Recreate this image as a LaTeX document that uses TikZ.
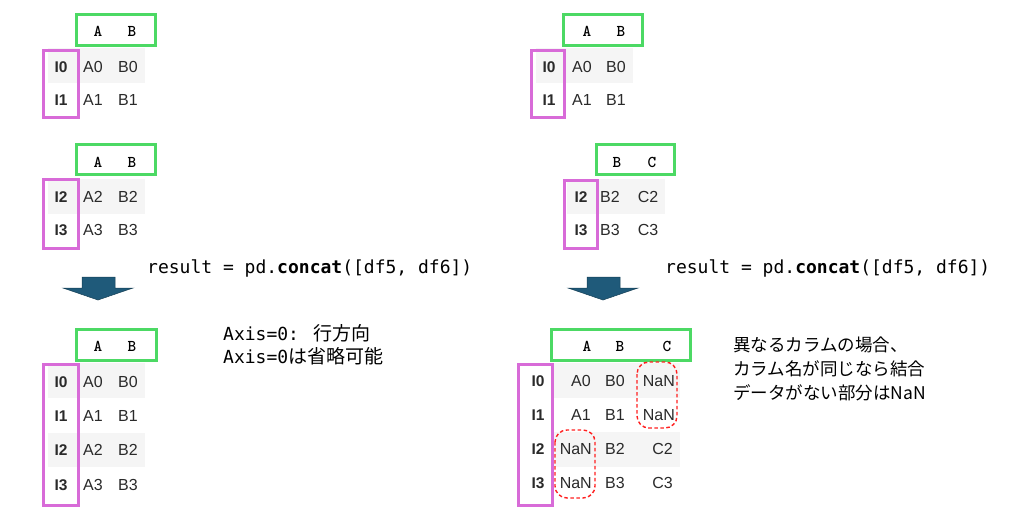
\documentclass[tikz,border=0pt]{standalone}
\usepackage{fontspec}
\setmainfont{Liberation Sans}
\newfontfamily\hdrf{Latin Modern Mono Light}
\newfontfamily\codef{DejaVu Sans Mono}
\newfontfamily\cjk{Noto Sans CJK JP}
\definecolor{gbox}{HTML}{4CD964}
\definecolor{mbox}{HTML}{D86BD8}
\definecolor{shade}{HTML}{F5F5F5}
\definecolor{valc}{HTML}{2A2A2A}
\definecolor{arrc}{HTML}{1F5A7A}
\definecolor{nanc}{HTML}{FF2020}
\tikzset{
  gframe/.style={draw=gbox,line width=3pt},
  mframe/.style={draw=mbox,line width=3pt},
  rowshade/.style={fill=shade,draw=none},
  hdr/.style={font=\hdrf\bfseries\fontsize{16.5}{18}\selectfont,text=black,inner sep=0pt},
  idx/.style={font=\bfseries\fontsize{15.5}{18}\selectfont,text=valc,inner sep=0pt},
  val/.style={font=\fontsize{16}{18}\selectfont,text=valc,inner sep=0pt},
  code/.style={font=\codef\fontsize{18}{22}\selectfont,anchor=west,inner sep=0pt},
  note/.style={anchor=west,inner sep=0pt,align=left},
  nanbox/.style={draw=nanc,dash pattern=on 3.5pt off 2.5pt,line width=1.4pt,rounded corners=12pt},
  downarrow/.style={fill=arrc,draw=arrc!70!black,line width=0.5pt}
}
\begin{document}
\begin{tikzpicture}[x=1pt,y=-1pt]
\useasboundingbox (0,0) rectangle (1024,521);

% ---------- Left top table ----------
\fill[rowshade] (48,48) rectangle (145,83);
\draw[gframe] (76,15) rectangle (155,46);
\draw[mframe] (43,51) rectangle (78,118);
\node[hdr] (l1hA) at (98,31) {A};
\node[hdr] (l1hB) at (132,31) {B};
\node[idx] (l1i0) at (61,67) {I0};
\node[idx] (l1i1) at (61,100) {I1};
\node[val] (l1a0) at (93,67) {A0};
\node[val] (l1b0) at (128,67) {B0};
\node[val] (l1a1) at (93,100) {A1};
\node[val] (l1b1) at (128,100) {B1};

% ---------- Left second table ----------
\fill[rowshade] (48,179) rectangle (145,214);
\draw[gframe] (76,145) rectangle (155,175);
\draw[mframe] (43,180) rectangle (78,248);
\node[hdr] (l2hA) at (98,162) {A};
\node[hdr] (l2hB) at (132,162) {B};
\node[idx] (l2i2) at (61,197) {I2};
\node[idx] (l2i3) at (61,230) {I3};
\node[val] (l2a2) at (93,197) {A2};
\node[val] (l2b2) at (128,197) {B2};
\node[val] (l2a3) at (93,230) {A3};
\node[val] (l2b3) at (128,230) {B3};

% ---------- Left code + arrow ----------
\node[code] (lcode) at (147,268) {result = pd.\textbf{concat}([df5, df6])};
\draw[downarrow] (82,277) -- (115,277) -- (115,288) -- (133,288) -- (98,300) -- (63,288) -- (82,288) -- cycle;

% ---------- Left result table ----------
\fill[rowshade] (48,363) rectangle (145,398);
\fill[rowshade] (48,433) rectangle (145,467);
\draw[gframe] (76,329) rectangle (156,360);
\draw[mframe] (43,364) rectangle (78,505);
\node[hdr] (l3hA) at (98,346) {A};
\node[hdr] (l3hB) at (132,346) {B};
\node[idx] (l3i0) at (61,382) {I0};
\node[idx] (l3i1) at (61,416) {I1};
\node[idx] (l3i2) at (61,450) {I2};
\node[idx] (l3i3) at (61,485) {I3};
\node[val] (l3a0) at (93,382) {A0};
\node[val] (l3b0) at (128,382) {B0};
\node[val] (l3a1) at (93,416) {A1};
\node[val] (l3b1) at (128,416) {B1};
\node[val] (l3a2) at (93,450) {A2};
\node[val] (l3b2) at (128,450) {B2};
\node[val] (l3a3) at (93,485) {A3};
\node[val] (l3b3) at (128,485) {B3};

\node[note] (lnote1) at (223,333) {{\codef\fontsize{18}{22}\selectfont Axis=0: }{\cjk\fontsize{19}{22}\selectfont 行方向}};
\node[note] (lnote2) at (223,356) {{\codef\fontsize{18}{22}\selectfont Axis=0}{\cjk\fontsize{19}{22}\selectfont は省略可能}};

% ---------- Right top table ----------
\fill[rowshade] (536,48) rectangle (633,83);
\draw[gframe] (563,15) rectangle (642,46);
\draw[mframe] (531,51) rectangle (564,118);
\node[hdr] (r1hA) at (587,31) {A};
\node[hdr] (r1hB) at (621,31) {B};
\node[idx] (r1i0) at (549,67) {I0};
\node[idx] (r1i1) at (549,100) {I1};
\node[val] (r1a0) at (582,67) {A0};
\node[val] (r1b0) at (616,67) {B0};
\node[val] (r1a1) at (582,100) {A1};
\node[val] (r1b1) at (616,100) {B1};

% ---------- Right second table ----------
\fill[rowshade] (567,179) rectangle (665,214);
\draw[gframe] (596,145) rectangle (674,175);
\draw[mframe] (564,181) rectangle (597,248);
\node[hdr] (r2hB) at (617,162) {B};
\node[hdr] (r2hC) at (652,162) {C};
\node[idx] (r2i2) at (581,197) {I2};
\node[idx] (r2i3) at (581,230) {I3};
\node[val] (r2b2) at (610,197) {B2};
\node[val] (r2c2) at (648,197) {C2};
\node[val] (r2b3) at (610,230) {B3};
\node[val] (r2c3) at (648,230) {C3};

% ---------- Right code + arrow ----------
\node[code] (rcode) at (665,268) {result = pd.\textbf{concat}([df5, df6])};
\draw[downarrow] (587,277) -- (620,277) -- (620,288) -- (638,288) -- (603,300) -- (568,288) -- (587,288) -- cycle;

% ---------- Right result table ----------
\fill[rowshade] (553,363) rectangle (680,398);
\fill[rowshade] (553,432) rectangle (680,467);
\draw[gframe] (551,329) rectangle (690,360);
\draw[mframe] (518,364) rectangle (552,505);
\node[hdr] (r3hA) at (587,346) {A};
\node[hdr] (r3hB) at (620,346) {B};
\node[hdr] (r3hC) at (667,346) {C};
\node[idx] (r3i0) at (538,381) {I0};
\node[idx] (r3i1) at (538,415) {I1};
\node[idx] (r3i2) at (538,449) {I2};
\node[idx] (r3i3) at (538,483) {I3};
\node[val,anchor=east] (r3a0) at (591,381) {A0};
\node[val,anchor=east] (r3b0) at (625,381) {B0};
\node[val,anchor=east] (r3c0) at (675,381) {NaN};
\node[val,anchor=east] (r3a1) at (591,415) {A1};
\node[val,anchor=east] (r3b1) at (625,415) {B1};
\node[val,anchor=east] (r3c1) at (675,415) {NaN};
\node[val,anchor=east] (r3a2) at (592,449) {NaN};
\node[val,anchor=east] (r3b2) at (625,449) {B2};
\node[val,anchor=east] (r3c2) at (673,449) {C2};
\node[val,anchor=east] (r3a3) at (592,483) {NaN};
\node[val,anchor=east] (r3b3) at (625,483) {B3};
\node[val,anchor=east] (r3c3) at (673,483) {C3};
\draw[nanbox] (637,362) rectangle (677,428);
\draw[nanbox] (555,430) rectangle (595,498);

\node[note,font=\cjk\fontsize{17.5}{24}\selectfont] (rnote) at (733,369) {異なるカラムの場合、\\カラム名が同じなら結合\\データがない部分はNaN};
\end{tikzpicture}
\end{document}
